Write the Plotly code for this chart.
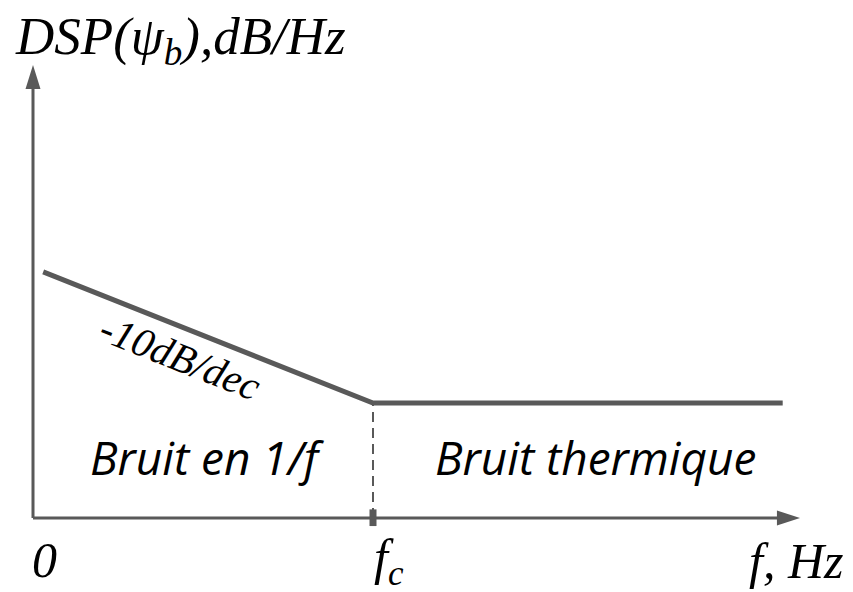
import plotly.graph_objects as go

# schematic PSD: 1/f region then thermal floor (arbitrary units)
freq = [0.3, 10, 22.05]
dsp_db = [21.4, 10, 10]
f_c = 10
slope_label = "-10dB/dec"
region_labels = ["Bruit en 1/f", "Bruit thermique"]

GREY = "#595959"
SERIF = "Liberation Serif"
SANS = "Open Sans"

W, H = 853, 592
OFF = 8  # page body margin
X_RANGE = [(OFF - 33) / 34, (W + OFF - 33) / 34]
Y_RANGE = [(518 - H - OFF) / 11.5, (518 - OFF) / 11.5]
X_TIP = 22.56
Y_TIP = 39.4


def paper(sx, sy):
    # screen pixel -> paper coords
    return (sx - OFF) / W, 1 - (sy - OFF) / H


fig = go.Figure()

fig.add_trace(go.Scatter(
    x=freq, y=dsp_db, mode="lines",
    line=dict(color=GREY, width=5),
    hoverinfo="skip", showlegend=False,
))

# dashed marker at the corner frequency
fig.add_shape(type="line", x0=f_c, x1=f_c, y0=0, y1=dsp_db[1],
              line=dict(color=GREY, width=2, dash="10px,6px"))
fig.add_shape(type="line", x0=f_c, x1=f_c, y0=-0.7, y1=0.75,
              line=dict(color=GREY, width=7))

# axes + arrow heads
fig.add_shape(type="line", x0=0, x1=X_TIP - 0.6, y0=0, y1=0,
              line=dict(color=GREY, width=3))
fig.add_shape(type="line", x0=0, x1=0, y0=0, y1=Y_TIP - 1.8,
              line=dict(color=GREY, width=3))
hx, hy = 0.68, 0.65
fig.add_shape(type="path", line=dict(width=0), fillcolor=GREY,
              path=f"M {X_TIP},0 L {X_TIP - hx},{hy} L {X_TIP - hx},{-hy} Z")
vx, vy = 0.22, 2.1
fig.add_shape(type="path", line=dict(width=0), fillcolor=GREY,
              path=f"M 0,{Y_TIP} L {vx},{Y_TIP - vy} L {-vx},{Y_TIP - vy} Z")

serif_it = dict(family=SERIF, size=50, color="black", style="italic")
sans_it = dict(family=SANS, size=46, color="black", style="italic")

tx, ty = paper(13, 40)
fig.add_annotation(x=tx, y=ty, xref="paper", yref="paper",
                   text="DSP(ψ<sub>b</sub>),dB/Hz", showarrow=False,
                   xanchor="left", yanchor="middle",
                   font=dict(serif_it, size=53))

for label, sx, sy in [("0", 44, 560), ("f<sub>c</sub>", 389, 561), ("f, Hz", 796, 561)]:
    px, py = paper(sx, sy)
    fig.add_annotation(x=px, y=py, xref="paper", yref="paper", text=label,
                       showarrow=False, xanchor="center", yanchor="middle",
                       font=serif_it)

px, py = paper(180, 357)
fig.add_annotation(x=px, y=py, xref="paper", yref="paper", text=slope_label,
                   showarrow=False, xanchor="center", yanchor="middle",
                   textangle=21.7,
                   font=dict(family=SERIF, size=41, color="black", style="italic"))

for label, sx in zip(region_labels, [207, 595]):
    px, py = paper(sx, 457)
    fig.add_annotation(x=px, y=py, xref="paper", yref="paper", text=label,
                       showarrow=False, xanchor="center", yanchor="middle",
                       font=sans_it)

fig.update_layout(
    width=W, height=H,
    margin=dict(l=0, r=0, t=0, b=0),
    paper_bgcolor="white", plot_bgcolor="white",
    xaxis=dict(range=X_RANGE, visible=False, fixedrange=True),
    yaxis=dict(range=Y_RANGE, visible=False, fixedrange=True),
)

fig.write_html("out.html")
